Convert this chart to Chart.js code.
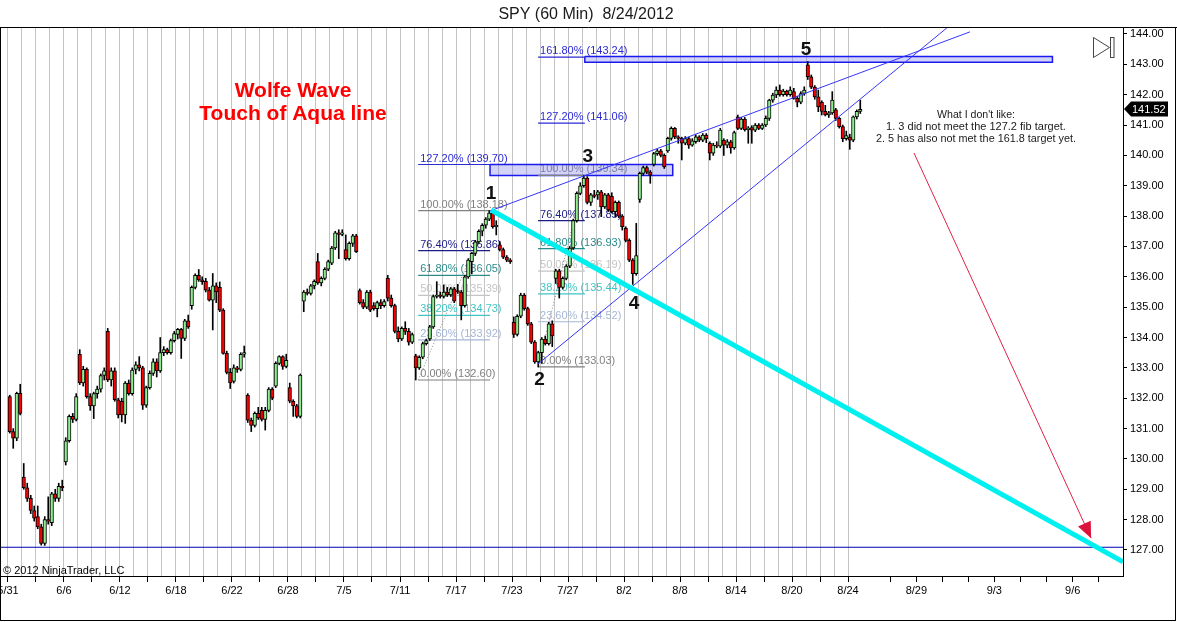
<!DOCTYPE html>
<html>
<head>
<meta charset="utf-8">
<title>SPY (60 Min) 8/24/2012</title>
<script src="https://cdn.jsdelivr.net/npm/chart.js@4.4.1/dist/chart.umd.min.js"></script>
<style>
html,body{margin:0;padding:0;background:#fff;overflow:hidden;}
canvas{display:block;}
</style>
</head>
<body>
<canvas id="c" width="1177" height="622"></canvas>
<script>
// ---------- DATA ----------
const dayLabels = ['5/31','6/1','6/4','6/5','6/6','6/7','6/8','6/11','6/12','6/13','6/14','6/15','6/18','6/19','6/20','6/21','6/22','6/25','6/26','6/27','6/28','6/29','7/2','7/3','7/5','7/6','7/9','7/10','7/11','7/12','7/13','7/16','7/17','7/18','7/19','7/20','7/23','7/24','7/25','7/26','7/27','7/30','7/31','8/1','8/2','8/3','8/6','8/7','8/8','8/9','8/10','8/13','8/14','8/15','8/16','8/17','8/20','8/21','8/22','8/23','8/24'];
const futureTickPos = [63.02,64.88,66.74,68.59,70.45,72.31,74.16,76.05,77.91];
const futureTickLabels = ['','8/29','','','9/3','','','9/6',''];
const barsPerDay = 4;

const opens = [
132.05,130.90,130.68,132.16, 129.40,129.05,128.70,128.30, 128.10,127.76,127.22,128.00, 127.90,128.85,128.70,129.10,
129.90,130.60,131.40,131.30, 133.45,132.50,132.95,132.05, 131.75,132.15,132.30,132.75, 134.20,132.60,132.90,131.95,
131.90,131.45,132.50,132.15, 132.95,133.10,133.00,131.77, 132.35,132.82,133.20,132.90, 133.50,133.60,133.50,133.90,
134.10,134.27,133.97,134.55, 135.05,135.65,136.05,135.90, 135.85,135.56,135.23,135.70, 135.65,134.90,133.48,132.85,
132.55,133.00,132.95,133.45, 132.10,131.28,131.10,131.50, 131.60,131.30,131.60,132.30, 132.40,133.15,133.37,133.05,
132.35,131.90,131.75,131.40, 135.20,135.50,135.45,135.70, 136.50,135.80,135.95,136.25, 136.45,136.95,137.45,137.40,
136.90,136.60,137.10,137.35, 135.55,135.15,135.00,135.50, 135.05,134.95,135.15,135.05, 135.95,135.30,135.05,134.20,
133.95,134.30,134.20,133.85, 133.40,133.00,133.35,133.80, 133.95,134.35,135.35,135.40, 135.35,135.50,135.40,135.60,
135.55,135.50,135.05,136.00, 136.50,136.77,137.15,137.50, 137.70,137.90,138.10,137.65, 137.05,136.90,136.65,136.55,
134.50,134.10,134.70,135.40, 134.95,134.45,133.85,133.20, 133.50,133.95,133.80,134.45, 135.95,136.20,135.65,135.95,
136.35,136.95,137.85,138.75, 139.00,139.25,138.45,138.70, 138.70,138.80,138.30,138.70, 138.65,138.15,138.45,138.00,
137.60,137.20,136.55,136.10, 138.55,139.41,139.60,139.45, 139.70,140.06,140.15,140.00, 140.15,140.56,140.89,140.61,
140.56,140.40,140.55,140.34, 140.45,140.61,140.50,140.67, 140.40,140.07,140.34,140.30, 140.50,140.34,140.45,140.25,
141.27,140.89,141.20,140.85, 140.92,140.83,141.00,140.89, 141.00,141.22,141.82,141.99, 142.15,142.00,142.12,142.00,
142.10,141.88,141.75,142.04, 142.98,142.59,142.25,141.93, 141.75,141.45,141.33,141.40, 141.50,141.22,140.95,140.55,
140.60,140.50,141.27,141.45];
const highs = [
132.10,131.00,132.20,132.46, 129.85,129.20,128.80,128.45, 128.45,127.85,128.10,128.75, 128.90,129.00,129.20,129.30,
130.70,131.45,131.50,132.15, 133.60,133.05,133.00,132.15, 132.20,132.40,132.80,133.00, 134.30,133.00,133.00,132.00,
132.00,132.55,132.60,133.00, 133.20,133.37,133.05,132.40, 132.90,133.30,133.30,134.00, 133.70,133.65,133.95,134.20,
134.30,134.30,134.60,134.74, 135.70,136.10,136.24,136.00, 135.95,135.65,136.11,135.80, 135.83,134.95,133.55,132.98,
133.10,133.05,133.50,133.72, 132.15,131.35,131.55,131.70, 131.70,131.70,132.35,132.35, 133.20,133.40,133.40,133.45,
132.50,131.95,131.80,132.80, 135.55,135.60,135.75,135.90, 136.77,136.00,136.30,136.55, 137.00,137.50,137.55,137.55,
137.38,137.15,137.40,137.40, 135.60,135.25,135.55,135.56, 135.15,135.20,135.25,135.25, 136.05,135.40,135.10,134.35,
134.35,134.52,134.30,134.15, 133.45,133.40,133.85,133.95, 134.40,135.40,135.84,135.50, 135.73,135.65,135.65,135.65,
135.75,135.55,136.05,136.60, 136.80,137.20,137.55,137.75, 137.95,138.18,138.15,137.85, 137.16,136.95,136.70,136.60,
134.68,134.75,135.46,135.45, 135.00,134.50,133.90,133.55, 134.00,134.05,134.50,134.55, 136.25,136.25,136.00,136.40,
137.00,137.90,138.80,139.10, 139.34,139.30,138.75,138.85, 138.85,138.85,138.75,138.75, 138.77,138.50,138.50,138.05,
137.65,137.25,136.60,137.76, 139.45,139.65,139.65,139.50, 140.10,140.20,140.20,140.05, 140.60,140.94,140.92,140.65,
140.60,140.62,140.60,140.55, 140.68,140.65,140.72,140.72, 140.45,140.40,140.45,140.89, 140.55,140.52,140.50,140.80,
141.33,141.25,141.25,140.95, 140.98,141.05,141.05,141.05, 141.30,141.85,142.05,142.26, 142.32,142.18,142.15,142.26,
142.21,141.95,142.10,142.26, 143.09,142.65,142.30,142.15, 141.80,141.65,141.45,142.10, 141.55,141.25,141.00,140.80,
140.70,141.30,141.50,141.82];
const lows = [
130.85,130.35,130.60,131.45, 129.00,128.60,128.20,127.95, 127.70,127.16,127.15,127.85, 127.80,128.60,128.60,128.95,
129.80,130.55,131.20,131.25, 132.45,132.40,132.00,131.60, 131.33,132.00,132.20,132.60, 132.55,132.40,131.90,131.35,
131.22,131.17,132.10,132.10, 132.80,132.90,131.63,131.70, 132.30,132.75,132.70,132.85, 133.40,133.45,133.45,133.85,
133.95,133.31,133.90,134.30, 134.93,135.60,135.85,135.75, 135.50,135.20,134.25,135.15, 134.85,133.45,132.80,132.32,
132.50,132.85,132.90,133.35, 131.20,130.90,131.05,131.30, 131.25,130.95,131.55,131.95, 132.35,133.10,132.95,133.00,
131.85,131.40,131.35,131.35, 134.85,135.40,135.40,135.60, 135.75,135.70,135.90,136.20, 136.40,136.90,136.60,137.35,
136.55,136.55,137.00,136.80, 135.10,134.95,134.95,134.85, 134.90,134.68,134.95,135.00, 135.20,135.00,134.15,133.86,
133.90,134.10,133.75,133.80, 132.60,132.95,133.30,133.75, 133.90,134.30,135.30,135.30, 135.30,135.35,135.35,135.15,
135.45,134.58,135.00,135.95, 136.10,136.70,137.10,137.35, 137.60,137.85,137.60,137.38, 136.85,136.60,136.50,136.44,
134.00,134.05,134.65,134.90, 134.40,133.80,133.15,133.03, 133.15,133.75,133.75,133.70, 135.78,135.30,135.60,135.90,
136.30,136.90,137.80,138.70, 138.95,138.40,138.35,138.60, 138.55,137.98,138.25,138.15, 138.10,137.98,137.95,137.54,
137.15,136.50,135.75,136.05, 138.45,139.35,139.40,139.08, 139.65,140.00,139.95,139.57, 140.10,140.50,140.55,140.40,
139.85,140.35,140.23,140.30, 140.40,140.45,140.45,140.42, 139.85,140.00,140.25,140.25, 140.00,140.25,140.07,140.20,
140.85,140.85,140.80,140.40, 140.40,140.78,140.85,140.85, 140.95,141.15,141.75,141.90, 141.95,141.95,141.95,141.95,
141.85,141.60,141.70,141.98, 142.50,142.20,141.85,141.44, 141.33,141.30,141.25,141.35, 141.15,140.90,140.45,140.50,
140.20,140.45,141.20,141.38];
const closes = [
130.90,130.68,132.16,131.50, 129.05,128.70,128.30,128.05, 127.76,127.22,128.00,127.95, 128.85,128.70,129.10,129.05,
130.60,131.40,131.30,132.05, 132.50,132.95,132.05,131.75, 132.15,132.30,132.75,132.90, 132.60,132.90,131.95,131.45,
131.45,132.50,132.15,132.93, 133.10,133.00,131.77,132.35, 132.82,133.20,132.90,133.50, 133.60,133.50,133.90,134.13,
134.27,133.97,134.55,134.35, 135.65,136.05,135.90,135.84, 135.56,135.23,135.70,135.50, 134.90,133.48,132.85,132.50,
133.00,132.95,133.45,133.50, 131.28,131.10,131.50,131.35, 131.30,131.60,132.30,132.00, 133.15,133.37,133.05,133.25,
131.90,131.75,131.40,132.76, 135.50,135.45,135.70,135.85, 135.80,135.95,136.25,136.50, 136.95,137.45,137.40,137.45,
136.60,137.10,137.35,136.83, 135.15,135.00,135.50,134.90, 134.95,135.15,135.05,135.18, 135.30,135.05,134.20,133.95,
134.30,134.20,133.85,134.10, 133.00,133.35,133.80,133.90, 134.35,135.35,135.40,135.35, 135.50,135.40,135.60,135.20,
135.50,135.05,136.00,136.55, 136.77,137.15,137.50,137.70, 137.90,138.10,137.65,137.70, 136.90,136.65,136.55,136.50,
134.10,134.70,135.40,134.95, 134.45,133.85,133.20,133.50, 133.95,133.80,134.45,134.05, 136.20,135.65,135.95,136.35,
136.95,137.85,138.75,139.00, 139.25,138.45,138.70,138.65, 138.80,138.30,138.70,138.20, 138.15,138.45,138.00,137.65,
137.20,136.55,136.10,136.70, 139.41,139.60,139.45,139.35, 140.06,140.15,140.00,139.62, 140.56,140.89,140.61,140.56,
140.40,140.55,140.34,140.48, 140.61,140.50,140.67,140.55, 140.07,140.34,140.30,140.83, 140.34,140.45,140.25,140.75,
140.89,141.20,140.85,140.90, 140.83,141.00,140.89,141.00, 141.22,141.82,141.99,142.15, 142.00,142.12,142.00,142.15,
141.88,141.75,142.04,142.15, 142.59,142.25,141.93,141.60, 141.45,141.33,141.40,141.82, 141.22,140.95,140.55,140.65,
140.50,141.27,141.45,141.52];

const yTicks = [127,128,129,130,131,132,133,134,135,136,137,138,139,140,141,142,143,144];
const lastPrice = 141.52;
const bandLevel = 127.09;

const fibPct = ['0.00%','23.60%','38.20%','50.00%','61.80%','76.40%','100.00%','127.20%','161.80%'];
const fib1Vals = [132.60,133.92,134.73,135.39,136.05,136.86,138.18,139.70];
const fib2Vals = [133.03,134.52,135.44,136.19,136.93,137.85,139.34,141.06,143.24];
const fib1Range = [29.3, 34.43];
const fib2Range = [37.86, 41.2];

const zoneLow = {x:[34.43,47.48], y:[139.34,139.70]};
const zoneHigh = {x:[41.2,74.6], y:[143.07,143.26]};

const upperLine = [{x:34.43,y:138.17},{x:68.71,y:144.07}];
const lowerLine = [{x:37.86,y:133.13},{x:67.06,y:144.20}];
const aquaLine  = [{x:34.5,y:138.2},{x:79.64,y:126.61}];
const arrowLine = [{x:64.71,y:140.08},{x:77.36,y:127.39}];

const waveLabels = ['1','2','3','4','5'];
const waveLabelX = [34.5,37.96,41.41,44.71,57.0];
const waveLabelY = [138.56,132.44,139.79,134.94,143.31];

const noteLines = ["What I don't like:","1. 3 did not meet the 127.2 fib target.","2. 5 has also not met the 161.8 target yet."];

// ---------- BUILD ----------
const FONT = '"Liberation Sans", Arial, sans-serif';
const fibColors = ['#808080','#a6b6d6','#40c4c4','#c4c4c4','#2a8a8a','#1c1c86','#808080','#2a2ad6','#2a2ad6'];
const X_MIN = -0.57, X_MAX = 79.64;

const wickData = [], bodyData = [], bodyColors = [];
for (let i = 0; i < opens.length; i++) {
  const d = Math.floor(i / barsPerDay), k = i % barsPerDay;
  const xv = d + (k + 0.5) / barsPerDay;
  wickData.push({x: xv, y: [lows[i], highs[i]]});
  let lo = Math.min(opens[i], closes[i]), hi = Math.max(opens[i], closes[i]);
  if (hi - lo < 0.03) { const m = (hi + lo) / 2; lo = m - 0.015; hi = m + 0.015; }
  bodyData.push({x: xv, y: [lo, hi]});
  bodyColors.push(closes[i] >= opens[i] ? '#90ee90' : '#ff0000');
}

function seg(data, color, width, order, extra) {
  return Object.assign({type:'line', data, borderColor:color, borderWidth:width, pointRadius:0,
    pointHoverRadius:0, fill:false, tension:0, order}, extra || {});
}

const datasets = [];
datasets.push(seg([{x:X_MIN,y:bandLevel},{x:X_MAX,y:bandLevel}], '#0000b4', 1.2, 30));
[zoneLow, zoneHigh].forEach(z => {
  datasets.push(seg([{x:z.x[0],y:z.y[1]},{x:z.x[1],y:z.y[1]}], 'rgba(0,0,0,0)', 0, 29,
    {fill:{value:z.y[0]}, backgroundColor:'rgba(120,120,235,0.33)'}));
  datasets.push(seg([{x:z.x[0],y:z.y[1]},{x:z.x[1],y:z.y[1]},{x:z.x[1],y:z.y[0]},{x:z.x[0],y:z.y[0]},{x:z.x[0],y:z.y[1]}],
    '#1a1aee', 1.5, 28));
});
fib1Vals.forEach((v,i) => datasets.push(seg([{x:fib1Range[0],y:v},{x:fib1Range[1],y:v}], fibColors[i], 1.2, 27)));
fib2Vals.forEach((v,i) => datasets.push(seg([{x:fib2Range[0],y:v},{x:fib2Range[1],y:v}], fibColors[i], 1.2, 27)));
datasets.push(seg([{x:fib1Range[0],y:fib1Vals[0]},{x:fib1Range[1],y:fib1Vals[6]}], '#888', 1, 26, {borderDash:[1,2]}));
datasets.push(seg([{x:fib2Range[0],y:fib2Vals[0]},{x:fib2Range[1],y:fib2Vals[6]}], '#888', 1, 26, {borderDash:[1,2]}));

datasets.push({type:'bar', data:wickData, backgroundColor:'#000', borderWidth:0, barThickness:1, grouped:false, order:6});
datasets.push({type:'bar', data:bodyData, backgroundColor:bodyColors, borderColor:'#000', borderWidth:1,
  borderSkipped:false, barThickness:3.5, grouped:false, order:5});

datasets.push(seg(upperLine, '#3535ff', 1, 3));
datasets.push(seg(lowerLine, '#3535ff', 1, 3));
datasets.push(seg(arrowLine, '#e0204a', 1, 2));
datasets.push(seg(aquaLine, '#00f0f0', 5, 1));

const deco = {
  id: 'deco',
  beforeDatasetsDraw(chart) {
    const ctx = chart.ctx, xs = chart.scales.x, ys = chart.scales.y;
    ctx.save();
    ctx.font = '11px ' + FONT; ctx.textAlign = 'left'; ctx.textBaseline = 'alphabetic';
    const drawFib = (vals, x0) => vals.forEach((v,i) => {
      ctx.fillStyle = fibColors[i];
      ctx.fillText(fibPct[i] + ' (' + v.toFixed(2) + ')', xs.getPixelForValue(x0) + 2, ys.getPixelForValue(v) - 3);
    });
    drawFib(fib1Vals, fib1Range[0]);
    drawFib(fib2Vals, fib2Range[0]);
    ctx.restore();
  },
  afterDatasetsDraw(chart) {
    const ctx = chart.ctx, xs = chart.scales.x, ys = chart.scales.y;
    ctx.save();
    const p0 = {x: xs.getPixelForValue(arrowLine[0].x), y: ys.getPixelForValue(arrowLine[0].y)};
    const p1 = {x: xs.getPixelForValue(arrowLine[1].x), y: ys.getPixelForValue(arrowLine[1].y)};
    const dx = p1.x - p0.x, dy = p1.y - p0.y, L = Math.hypot(dx, dy), ux = dx/L, uy = dy/L, nx = -uy, ny = ux;
    const bx = p1.x - 16*ux, by = p1.y - 16*uy;
    ctx.fillStyle = '#dc143c';
    ctx.beginPath(); ctx.moveTo(p1.x, p1.y); ctx.lineTo(bx + 7*nx, by + 7*ny); ctx.lineTo(bx - 7*nx, by - 7*ny); ctx.closePath(); ctx.fill();
    ctx.font = 'bold 19px ' + FONT; ctx.fillStyle = '#111'; ctx.textAlign = 'center'; ctx.textBaseline = 'alphabetic';
    waveLabels.forEach((t,i) => ctx.fillText(t, xs.getPixelForValue(waveLabelX[i]), ys.getPixelForValue(waveLabelY[i])));
    ctx.font = 'bold 21px ' + FONT; ctx.fillStyle = '#ff0000';
    ctx.fillText('Wolfe Wave', 293, 96.5);
    ctx.fillText('Touch of Aqua line', 293, 120);
    ctx.font = '11px ' + FONT; ctx.fillStyle = '#1a1a1a';
    ctx.fillText(noteLines[0], 976, 118, 78);
    ctx.fillText(noteLines[1], 976, 130, 184);
    ctx.fillText(noteLines[2], 976, 141.5, 200);
    ctx.restore();
  },
  afterDraw(chart) {
    const ctx = chart.ctx, ys = chart.scales.y;
    ctx.save();
    ctx.fillStyle = '#1a1a1a'; ctx.font = '16px ' + FONT; ctx.textAlign = 'center'; ctx.textBaseline = 'alphabetic';
    ctx.fillText('SPY (60 Min)  8/24/2012', 586, 18.5);
    ctx.font = '11px ' + FONT; ctx.textAlign = 'left'; ctx.fillStyle = '#000';
    ctx.fillText('\u00A9 2012 NinjaTrader, LLC', 3, 574);
    ctx.strokeStyle = '#000'; ctx.lineWidth = 1;
    ctx.beginPath();
    ctx.moveTo(0, 27.5); ctx.lineTo(1177, 27.5);
    ctx.moveTo(0.5, 27); ctx.lineTo(0.5, 621);
    ctx.moveTo(1175.5, 27); ctx.lineTo(1175.5, 621);
    ctx.moveTo(0, 620.5); ctx.lineTo(1176, 620.5);
    ctx.stroke();
    const y = Math.round(ys.getPixelForValue(lastPrice));
    ctx.fillStyle = '#000';
    ctx.beginPath(); ctx.moveTo(1124, y); ctx.lineTo(1131, y - 7.5); ctx.lineTo(1168, y - 7.5); ctx.lineTo(1168, y + 7.5); ctx.lineTo(1131, y + 7.5); ctx.closePath(); ctx.fill();
    ctx.fillStyle = '#fff'; ctx.textBaseline = 'middle';
    ctx.fillText(lastPrice.toFixed(2), 1132, y + 0.5);
    ctx.strokeStyle = '#444'; ctx.lineWidth = 1;
    ctx.beginPath(); ctx.moveTo(1093.5, 37.5); ctx.lineTo(1109.5, 47.5); ctx.lineTo(1093.5, 57.5); ctx.closePath(); ctx.stroke();
    ctx.strokeRect(1110.5, 37.5, 3.5, 20);
    ctx.restore();
  }
};

new Chart(document.getElementById('c'), {
  type: 'bar',
  data: {datasets},
  options: {
    responsive: false, animation: false, devicePixelRatio: 1, events: [],
    layout: {padding: {top: 27, left: 0, right: 0, bottom: 0}},
    plugins: {legend: {display: false}, tooltip: {enabled: false}, title: {display: false}},
    scales: {
      x: {
        type: 'linear', min: X_MIN, max: X_MAX, offset: false,
        afterBuildTicks: s => { s.ticks = dayLabels.map((_, i) => ({value: i})).concat(futureTickPos.map(v => ({value: v}))); },
        afterFit: s => { s.height = 46; s.paddingLeft = 0; s.paddingRight = 0; },
        ticks: {
          autoSkip: false, maxRotation: 0, minRotation: 0, color: '#000', padding: 2,
          font: {size: 11, family: FONT},
          callback: v => {
            if (Number.isInteger(v) && v % 4 === 0 && v < dayLabels.length) return dayLabels[v];
            const j = futureTickPos.indexOf(v);
            return j >= 0 ? futureTickLabels[j] : '';
          }
        },
        grid: {
          offset: false, drawOnChartArea: true, drawTicks: true, tickLength: 6, lineWidth: 1,
          color: c => (c.tick && Number.isInteger(c.tick.value)) ? '#c4c4c4' : 'rgba(0,0,0,0)',
          tickColor: c => {
            const v = c.tick ? c.tick.value : 0;
            if (Number.isInteger(v)) return v % 2 === 0 ? '#000' : 'rgba(0,0,0,0)';
            return '#000';
          }
        },
        border: {display: true, color: '#000', width: 1}
      },
      y: {
        position: 'right', min: 126.143, max: 144.23,
        afterBuildTicks: s => { s.ticks = yTicks.map(v => ({value: v})); },
        afterFit: s => { s.width = 54; s.paddingTop = 0; s.paddingBottom = 0; },
        ticks: {color: '#000', padding: 3, font: {size: 11, family: FONT}, callback: v => Number(v).toFixed(2)},
        grid: {drawOnChartArea: false, drawTicks: true, tickLength: 4, tickColor: '#000'},
        border: {display: true, color: '#000', width: 1}
      }
    }
  },
  plugins: [deco]
});
</script>
</body>
</html>
